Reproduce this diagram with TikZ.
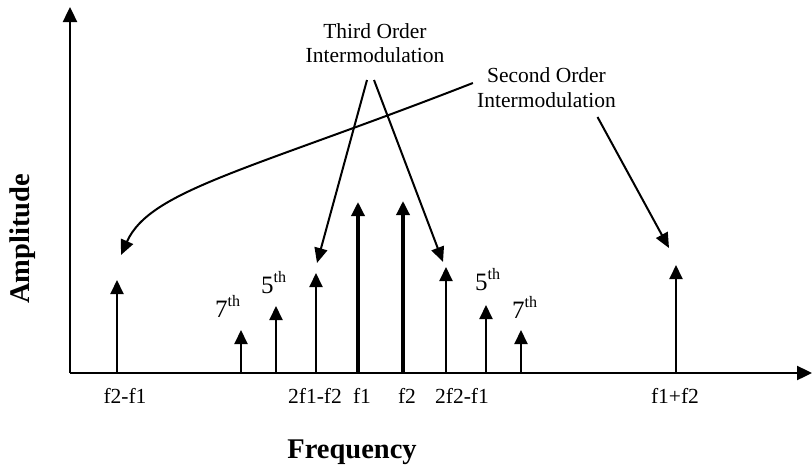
\documentclass[tikz,border=0pt]{standalone}
\usepackage{fontspec}
\setmainfont{Liberation Serif}
\usetikzlibrary{arrows.meta}
\begin{document}
\begin{tikzpicture}[x=1pt,y=-1pt,
  lbl/.style={inner sep=0pt,anchor=base,font=\fontsize{21.5}{24}\selectfont},
  axisname/.style={inner sep=0pt,anchor=base,font=\fontsize{28.5}{30}\selectfont\bfseries},
  ordlbl/.style={inner sep=0pt,anchor=base west,font=\fontsize{25}{28}\selectfont},
  axisline/.style={line width=2.4pt,-{Triangle[length=15pt,width=14pt]}},
  spike/.style={line width=2pt,-{Triangle[length=14pt,width=13pt]}},
  carrier/.style={spike,line width=3.3pt},
  pointer/.style={line width=2pt,-{Triangle[length=15pt,width=13pt]}},
]
\useasboundingbox (0,0) rectangle (812,469);
\newcommand{\ordth}[1]{#1\raisebox{11pt}{\fontsize{16}{18}\selectfont th}}

% axes
\coordinate (O) at (70,373);
\draw[axisline] (O) -- (70,7);
\draw[axisline] (O) -- (812,373);
\node[axisname,rotate=90] (amp) at (29.5,239) {Amplitude};
\node[axisname] (freq) at (352,458) {Frequency};

% spectral lines
\draw[spike]   (117,373) -- (117,280);
\draw[spike]   (241,373) -- (241,330);
\draw[spike]   (276,373) -- (276,306);
\draw[spike]   (316,373) -- (316,273);
\draw[carrier] (358,373) -- (358,202);
\draw[carrier] (403,373) -- (403,201);
\draw[spike]   (446,373) -- (446,267);
\draw[spike]   (486,373) -- (486,305);
\draw[spike]   (521,373) -- (521,330);
\draw[spike]   (676,373) -- (676,265);

% harmonic order labels
\node[ordlbl] (o7l) at (215,317) {\ordth{7}};
\node[ordlbl] (o5l) at (261,293) {\ordth{5}};
\node[ordlbl] (o5r) at (475,290) {\ordth{5}};
\node[ordlbl] (o7r) at (512,318) {\ordth{7}};

% frequency labels
\node[lbl] (lf21) at (125,403) {f2-f1};
\node[lbl] (l2f1) at (315,403) {2f1-f2};
\node[lbl] (lf1)  at (362,403) {f1};
\node[lbl] (lf2)  at (407,403) {f2};
\node[lbl] (l2f2) at (462,403) {2f2-f1};
\node[lbl] (lsum) at (675,403) {f1+f2};

% third order annotation
\node[lbl] (t3a) at (375,38) {Third Order};
\node[lbl] (t3b) at (375,62) {Intermodulation};
\coordinate (t3tipL) at (317,263);
\coordinate (t3tipR) at (443,262);
\draw[pointer] ([xshift=-8pt,yshift=-18pt]t3b.base) -- (t3tipL);
\draw[pointer] ([xshift=-1pt,yshift=-18pt]t3b.base) -- (t3tipR);

% second order annotation
\node[lbl] (t2a) at (546.5,82) {Second Order};
\node[lbl] (t2b) at (546.5,107) {Intermodulation};
\coordinate (t2tipL) at (121,255);
\coordinate (t2tipR) at (669,248);
\draw[pointer] ([xshift=-14pt,yshift=-1pt]t2a.base west)
  .. controls (250,170) and (150,190) .. (t2tipL);
\draw[pointer] ([xshift=51pt,yshift=-10pt]t2b.base) -- (t2tipR);
\end{tikzpicture}
\end{document}
